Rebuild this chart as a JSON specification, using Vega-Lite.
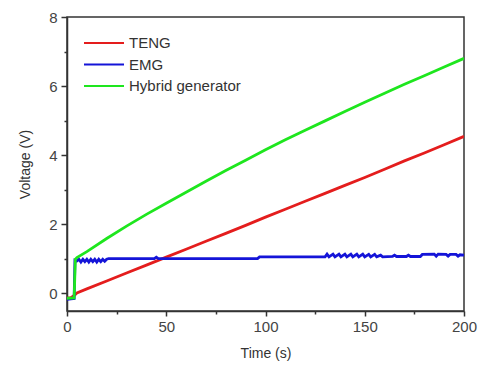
{
  "$schema": "https://vega.github.io/schema/vega-lite/v6.json",
  "width": 397,
  "height": 294,
  "autosize": {"type": "none"},
  "padding": {"left": 67, "top": 17, "right": 17, "bottom": 54},
  "background": "white",
  "config": {
    "view": {"stroke": "#333333", "strokeWidth": 1.5},
    "font": "Liberation Sans",
    "axis": {
      "grid": false,
      "domainColor": "#333333",
      "domainWidth": 1.5,
      "tickColor": "#333333",
      "tickWidth": 1.5,
      "labelColor": "#444444",
      "labelFontSize": 15,
      "labelFont": "Liberation Sans",
      "titleFont": "Liberation Sans",
      "titleFontSize": 14,
      "titleFontWeight": "normal",
      "titleColor": "#333333"
    }
  },
  "data": {
    "values": [
      {"series": "TENG", "t": 0, "v": -0.15},
      {"series": "TENG", "t": 2, "v": -0.13},
      {"series": "TENG", "t": 4, "v": -0.05},
      {"series": "TENG", "t": 5, "v": 0.0},
      {"series": "TENG", "t": 10, "v": 0.12},
      {"series": "TENG", "t": 20, "v": 0.35},
      {"series": "TENG", "t": 30, "v": 0.58},
      {"series": "TENG", "t": 40, "v": 0.81},
      {"series": "TENG", "t": 50, "v": 1.04},
      {"series": "TENG", "t": 60, "v": 1.27},
      {"series": "TENG", "t": 70, "v": 1.5},
      {"series": "TENG", "t": 80, "v": 1.73},
      {"series": "TENG", "t": 90, "v": 1.96},
      {"series": "TENG", "t": 100, "v": 2.2},
      {"series": "TENG", "t": 110, "v": 2.43},
      {"series": "TENG", "t": 120, "v": 2.66},
      {"series": "TENG", "t": 130, "v": 2.89},
      {"series": "TENG", "t": 140, "v": 3.12},
      {"series": "TENG", "t": 150, "v": 3.35},
      {"series": "TENG", "t": 160, "v": 3.59},
      {"series": "TENG", "t": 170, "v": 3.83},
      {"series": "TENG", "t": 180, "v": 4.06},
      {"series": "TENG", "t": 190, "v": 4.3},
      {"series": "TENG", "t": 200, "v": 4.54},

      {"series": "EMG", "t": 0, "v": -0.18},
      {"series": "EMG", "t": 2, "v": -0.17},
      {"series": "EMG", "t": 3.6, "v": -0.16},
      {"series": "EMG", "t": 4, "v": 0.95},
      {"series": "EMG", "t": 5, "v": 0.93},
      {"series": "EMG", "t": 6, "v": 0.98},
      {"series": "EMG", "t": 7, "v": 0.9},
      {"series": "EMG", "t": 8, "v": 0.98},
      {"series": "EMG", "t": 9, "v": 0.91},
      {"series": "EMG", "t": 10, "v": 0.98},
      {"series": "EMG", "t": 11, "v": 0.9},
      {"series": "EMG", "t": 12, "v": 0.98},
      {"series": "EMG", "t": 13, "v": 0.91},
      {"series": "EMG", "t": 14, "v": 0.98},
      {"series": "EMG", "t": 15, "v": 0.9},
      {"series": "EMG", "t": 16, "v": 0.98},
      {"series": "EMG", "t": 17, "v": 0.91},
      {"series": "EMG", "t": 18, "v": 0.98},
      {"series": "EMG", "t": 19, "v": 0.92},
      {"series": "EMG", "t": 20, "v": 0.98},
      {"series": "EMG", "t": 21, "v": 1.0},
      {"series": "EMG", "t": 44, "v": 1.0},
      {"series": "EMG", "t": 45, "v": 1.04},
      {"series": "EMG", "t": 46, "v": 1.0},
      {"series": "EMG", "t": 96, "v": 1.0},
      {"series": "EMG", "t": 97, "v": 1.05},
      {"series": "EMG", "t": 130, "v": 1.05},
      {"series": "EMG", "t": 131, "v": 1.13},
      {"series": "EMG", "t": 132, "v": 1.05},
      {"series": "EMG", "t": 134, "v": 1.13},
      {"series": "EMG", "t": 135, "v": 1.05},
      {"series": "EMG", "t": 137, "v": 1.13},
      {"series": "EMG", "t": 138, "v": 1.05},
      {"series": "EMG", "t": 140, "v": 1.13},
      {"series": "EMG", "t": 141, "v": 1.05},
      {"series": "EMG", "t": 143, "v": 1.13},
      {"series": "EMG", "t": 144, "v": 1.05},
      {"series": "EMG", "t": 146, "v": 1.13},
      {"series": "EMG", "t": 147, "v": 1.05},
      {"series": "EMG", "t": 149, "v": 1.13},
      {"series": "EMG", "t": 150, "v": 1.05},
      {"series": "EMG", "t": 152, "v": 1.12},
      {"series": "EMG", "t": 153, "v": 1.05},
      {"series": "EMG", "t": 155, "v": 1.12},
      {"series": "EMG", "t": 156, "v": 1.05},
      {"series": "EMG", "t": 158, "v": 1.1},
      {"series": "EMG", "t": 159, "v": 1.05},
      {"series": "EMG", "t": 164, "v": 1.06},
      {"series": "EMG", "t": 165, "v": 1.1},
      {"series": "EMG", "t": 166, "v": 1.06},
      {"series": "EMG", "t": 171, "v": 1.06},
      {"series": "EMG", "t": 172, "v": 1.1},
      {"series": "EMG", "t": 173, "v": 1.06},
      {"series": "EMG", "t": 178, "v": 1.06},
      {"series": "EMG", "t": 179, "v": 1.12},
      {"series": "EMG", "t": 185, "v": 1.13},
      {"series": "EMG", "t": 186, "v": 1.07},
      {"series": "EMG", "t": 187, "v": 1.13},
      {"series": "EMG", "t": 191, "v": 1.12},
      {"series": "EMG", "t": 192, "v": 1.07},
      {"series": "EMG", "t": 193, "v": 1.12},
      {"series": "EMG", "t": 196, "v": 1.12},
      {"series": "EMG", "t": 197, "v": 1.07},
      {"series": "EMG", "t": 198, "v": 1.11},
      {"series": "EMG", "t": 200, "v": 1.1},

      {"series": "Hybrid generator", "t": 0, "v": -0.15},
      {"series": "Hybrid generator", "t": 3.6, "v": -0.14},
      {"series": "Hybrid generator", "t": 4.2, "v": 0.98},
      {"series": "Hybrid generator", "t": 5, "v": 1.03},
      {"series": "Hybrid generator", "t": 10, "v": 1.2},
      {"series": "Hybrid generator", "t": 20, "v": 1.58},
      {"series": "Hybrid generator", "t": 30, "v": 1.94},
      {"series": "Hybrid generator", "t": 40, "v": 2.28},
      {"series": "Hybrid generator", "t": 50, "v": 2.6},
      {"series": "Hybrid generator", "t": 60, "v": 2.92},
      {"series": "Hybrid generator", "t": 70, "v": 3.24},
      {"series": "Hybrid generator", "t": 80, "v": 3.55},
      {"series": "Hybrid generator", "t": 90, "v": 3.85},
      {"series": "Hybrid generator", "t": 100, "v": 4.15},
      {"series": "Hybrid generator", "t": 110, "v": 4.44},
      {"series": "Hybrid generator", "t": 120, "v": 4.72},
      {"series": "Hybrid generator", "t": 130, "v": 4.99},
      {"series": "Hybrid generator", "t": 140, "v": 5.26},
      {"series": "Hybrid generator", "t": 150, "v": 5.53},
      {"series": "Hybrid generator", "t": 160, "v": 5.79},
      {"series": "Hybrid generator", "t": 170, "v": 6.05},
      {"series": "Hybrid generator", "t": 180, "v": 6.3},
      {"series": "Hybrid generator", "t": 190, "v": 6.55},
      {"series": "Hybrid generator", "t": 200, "v": 6.8}
    ]
  },
  "mark": {"type": "line", "strokeWidth": 2.8, "clip": true},
  "encoding": {
    "x": {
      "field": "t",
      "type": "quantitative",
      "scale": {"domain": [0, 200], "nice": false, "zero": false},
      "axis": {
        "title": "Time (s)",
        "values": [0, 25, 50, 75, 100, 125, 150, 175, 200],
        "labelExpr": "datum.value % 50 === 0 ? datum.label : ''",
        "tickSize": {"condition": {"test": "datum.value % 50 !== 0", "value": 3}, "value": 5},
        "labelPadding": 3,
        "titlePadding": 12,
        "labelFlush": false
      }
    },
    "y": {
      "field": "v",
      "type": "quantitative",
      "scale": {"domain": [-0.52, 8], "nice": false, "zero": false},
      "axis": {
        "title": "Voltage (V)",
        "values": [0, 1, 2, 3, 4, 5, 6, 7, 8],
        "labelExpr": "datum.value % 2 === 0 ? datum.label : ''",
        "tickSize": {"condition": {"test": "datum.value % 2 !== 0", "value": 3}, "value": 6},
        "labelPadding": 4,
        "titlePadding": 16,
        "labelFlush": false
      }
    },
    "color": {
      "field": "series",
      "type": "nominal",
      "sort": ["TENG", "EMG", "Hybrid generator"],
      "scale": {
        "domain": ["TENG", "EMG", "Hybrid generator"],
        "range": ["#e41d1d", "#1414d8", "#1ee61e"]
      },
      "legend": {
        "title": null,
        "orient": "none",
        "legendX": 26,
        "legendY": 15,
        "padding": 0,
        "symbolType": "M-2,0H2",
        "symbolSize": 400,
        "symbolStrokeWidth": 2,
        "labelOffset": 14,
        "labelFontSize": 15,
        "labelColor": "#333333",
        "labelFont": "Liberation Sans",
        "rowPadding": 2.5
      }
    },
    "order": {"field": "t", "type": "quantitative"},
    "strokeWidth": {
      "condition": {"test": "datum.series === 'EMG'", "value": 3.5},
      "value": 2.8
    }
  }
}
